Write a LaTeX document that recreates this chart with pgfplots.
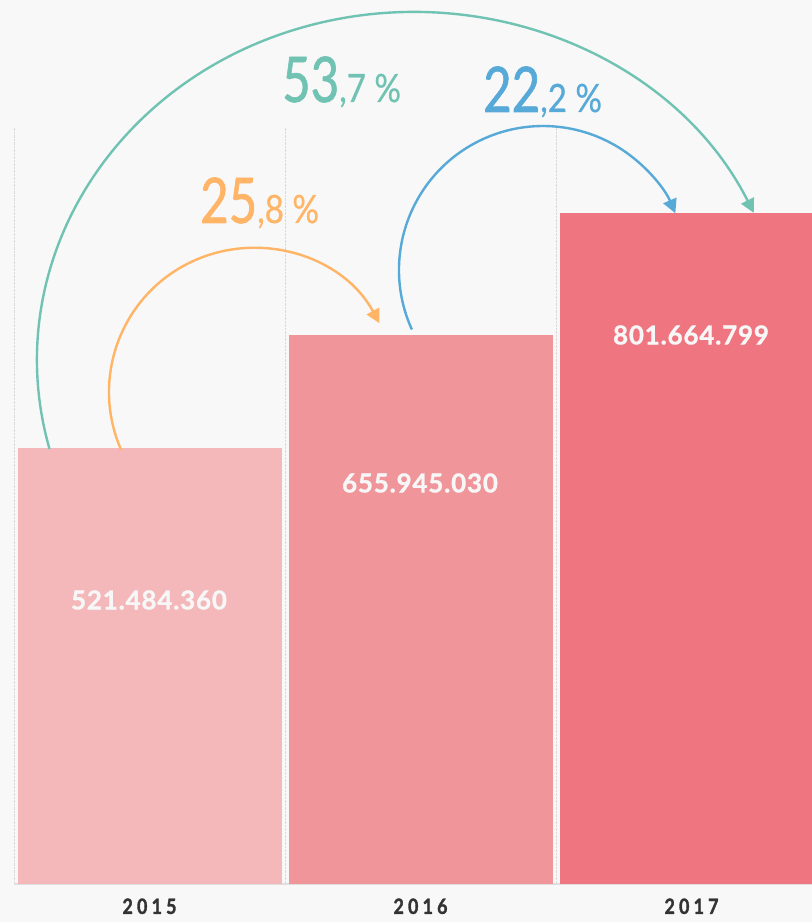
\documentclass[border=0pt]{standalone}
\usepackage{fontspec}
\setmainfont{Lato}
\usepackage{pgfplots}
\pgfplotsset{compat=1.18}
\usetikzlibrary{arrows.meta,backgrounds}

\definecolor{bgray}{HTML}{F8F8F8}
\definecolor{bar15}{HTML}{F4B7BA}
\definecolor{bar16}{HTML}{F0969B}
\definecolor{bar17}{HTML}{EF7680}
\definecolor{teal}{HTML}{70C3B3}
\definecolor{sky}{HTML}{57A9D8}
\definecolor{peach}{HTML}{FFB466}
\definecolor{ink}{HTML}{333333}

% big integer part, small decimals
\newcommand\pct[2]{{\addfontfeatures{FakeStretch=0.78,FakeBold=1}\fontsize{63}{63}\selectfont #1}{\addfontfeatures{FakeStretch=0.85,FakeBold=0.6}\fontsize{39}{39}\selectfont ,#2 \%}}

\begin{document}
\begin{tikzpicture}
\begin{axis}[
  scale only axis,
  width=798pt,height=757pt,
  xmin=-0.5,xmax=2.4446,
  ymin=0,ymax=905,
  axis x line=bottom,
  axis y line=none,
  axis line style={draw=black!13,line width=2pt,-},
  xtick={0,1,2},
  xticklabels={2015,2016,2017},
  major tick length=0pt,
  minor tick length=0pt,
  minor xtick={-0.5,0.5,1.5},
  xminorgrids=true,
  minor grid style={draw=black!15,densely dotted,line width=0.8pt},
  xticklabel style={font=\bfseries\fontsize{21}{21}\selectfont\addfontfeatures{LetterSpace=20,FakeStretch=0.85,FakeBold=1.6},text=ink,yshift=-11pt},
  ybar,
  bar width=264pt,
]
\coordinate (O) at (axis cs:-0.5,0);
\addplot[fill=bar15,draw=none,bar shift=0pt] coordinates {(0,521.484360)};
\addplot[fill=bar16,draw=none,bar shift=0pt] coordinates {(1,655.945030)};
\addplot[fill=bar17,draw=none,bar shift=0pt] coordinates {(2,801.664799)};
\end{axis}

% pixel frame: origin top left of the picture, y downwards
\begin{scope}[shift={(O)},x=1pt,y=-1pt,shift={(-14,-884)}]
  \begin{scope}[on background layer]
    \fill[bgray] (0,0) rectangle (812,922);
  \end{scope}
  \tikzset{arc/.style={line width=2.4pt,-{Triangle[length=14pt,width=14pt]}}}
  \draw[arc,peach] (253,392) ++(203.7:144pt) arc[start angle=203.7,end angle=28.5,radius=144pt];
  \draw[arc,sky] (543,270) ++(204.4:144pt) arc[start angle=204.4,end angle=23.2,radius=144pt];
  \draw[arc,teal] (413,360) ++(194.8:376pt and 348pt) arc[start angle=194.8,end angle=25,x radius=376pt,y radius=348pt];

  \node[anchor=base west,inner sep=0pt,text=teal] at (282,102) {\pct{53}{7}};
  \node[anchor=base west,inner sep=0pt,text=peach] at (200,223) {\pct{25}{8}};
  \node[anchor=base west,inner sep=0pt,text=sky] at (483,112) {\pct{22}{2}};

  \tikzset{val/.style={text=white!97!black,font=\bfseries\fontsize{26}{26}\selectfont\addfontfeatures{LetterSpace=3,FakeBold=1.2}}}
  \node[val] at (149,600) {521.484.360};
  \node[val] at (420,483) {655.945.030};
  \node[val] at (691,335) {801.664.799};

  \pgfresetboundingbox
  \path[use as bounding box] (0,0) rectangle (812,922);
\end{scope}
\end{tikzpicture}
\end{document}
